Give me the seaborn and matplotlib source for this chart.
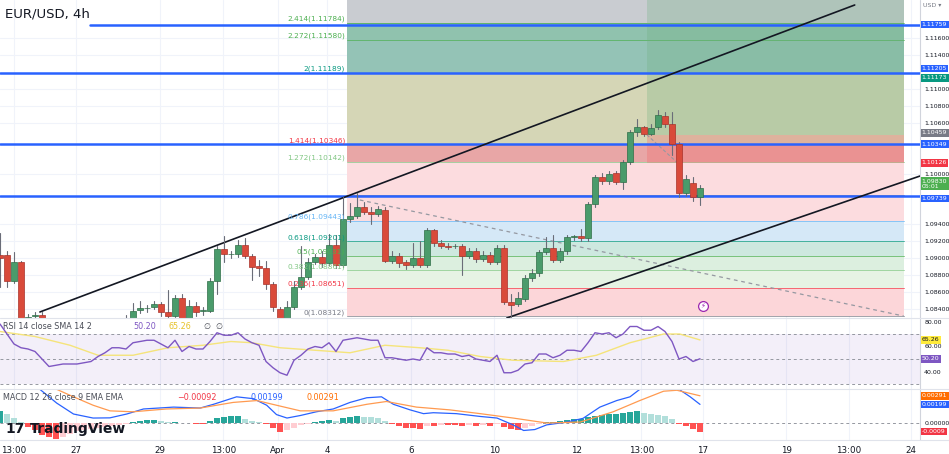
import numpy as np
import pandas as pd
import matplotlib
matplotlib.use("Agg")
import matplotlib.pyplot as plt
import matplotlib.transforms as mtransforms
import seaborn as sns

sns.set_theme(style="white")
plt.rcParams['font.family'] = ['DejaVu Sans']

# ---------------- data ----------------
opens = [1.0904,1.0904,1.0873,1.0895,1.0795,1.0832,1.0833,1.0800,1.0790,1.0785,1.0795,1.0790,1.0800,1.0805,1.0798,1.0808,1.0812,1.0815,1.0818,
         1.0828,1.0839,1.0841,1.0842,1.0846,1.0837,1.0832,1.0853,1.0826,1.0844,1.0838,1.0838,1.0873,1.0911,1.0905,1.0905,1.0916,1.0903,1.0891,1.0888,
         1.0870,1.0840,1.0828,1.0842,1.0866,1.0878,1.0895,1.0901,1.0894,1.0916,1.0892,1.0946,1.0950,1.0961,1.0955,1.0952,1.0957,1.0897,1.0903,1.0895,
         1.0892,1.0900,1.0892,1.0933,1.0918,1.0915,1.0914,1.0915,1.0903,1.0909,1.0899,1.0904,1.0895,1.0912,1.0848,1.0846,1.0852,1.0877,1.0882,1.0907,
         1.0912,1.0898,1.0909,1.0925,1.0926,1.0924,1.0964,1.0996,1.0991,1.1001,1.0990,1.1014,1.1049,1.1055,1.1047,1.1055,1.1068,1.1059,1.1035,1.0977,
         1.0989,1.0972]
closes = [1.0900,1.0873,1.0895,1.0795,1.0830,1.0833,1.0826,1.0790,1.0785,1.0795,1.0790,1.0800,1.0805,1.0798,1.0808,1.0812,1.0815,1.0818,1.0828,
          1.0838,1.0841,1.0841,1.0846,1.0837,1.0832,1.0853,1.0826,1.0844,1.0837,1.0838,1.0873,1.0911,1.0905,1.0905,1.0916,1.0903,1.0890,1.0888,1.0870,
          1.0842,1.0828,1.0842,1.0866,1.0878,1.0895,1.0901,1.0894,1.0916,1.0892,1.0946,1.0950,1.0961,1.0955,1.0952,1.0958,1.0897,1.0903,1.0894,1.0892,
          1.0900,1.0892,1.0933,1.0918,1.0915,1.0913,1.0914,1.0903,1.0909,1.0899,1.0904,1.0895,1.0912,1.0848,1.0845,1.0853,1.0877,1.0882,1.0907,1.0912,
          1.0898,1.0909,1.0925,1.0926,1.0924,1.0964,1.0996,1.0991,1.1000,1.0990,1.1014,1.1049,1.1055,1.1047,1.1054,1.1069,1.1059,1.1035,1.0977,1.0993,
          1.0972,1.0983]
highs = [1.0930,1.0908,1.0907,1.0897,1.0834,1.0836,1.0836,1.0805,1.0800,1.0800,1.0800,1.0805,1.0810,1.0810,1.0812,1.0815,1.0818,1.0822,1.0833,
         1.0847,1.0850,1.0845,1.0850,1.0848,1.0862,1.0856,1.0858,1.0851,1.0848,1.0842,1.0877,1.0915,1.0926,1.0909,1.0922,1.0924,1.0905,1.0898,1.0897,
         1.0872,1.0842,1.0850,1.0873,1.0915,1.0900,1.0905,1.0908,1.0929,1.0928,1.0972,1.0965,1.0977,1.0966,1.0960,1.0962,1.0960,1.0908,1.0906,1.0898,
         1.0918,1.0920,1.0936,1.0935,1.0921,1.0918,1.0917,1.0917,1.0912,1.0912,1.0908,1.0907,1.0916,1.0916,1.0858,1.0860,1.0880,1.0887,1.0910,1.0925,
         1.0928,1.0912,1.0928,1.0928,1.0935,1.0966,1.0998,1.1001,1.1003,1.1003,1.1016,1.1052,1.1065,1.1056,1.1058,1.1075,1.1073,1.1073,1.1037,1.0998,
         1.0996,1.0986]
lows = [1.0866,1.0866,1.0871,1.0790,1.0790,1.0829,1.0824,1.0780,1.0778,1.0780,1.0785,1.0785,1.0795,1.0792,1.0795,1.0803,1.0808,1.0810,1.0815,
        1.0825,1.0835,1.0837,1.0840,1.0832,1.0829,1.0830,1.0824,1.0824,1.0832,1.0833,1.0836,1.0858,1.0896,1.0900,1.0902,1.0900,1.0874,1.0879,1.0864,
        1.0838,1.0826,1.0826,1.0840,1.0864,1.0876,1.0893,1.0890,1.0892,1.0888,1.0890,1.0943,1.0948,1.0952,1.0940,1.0950,1.0895,1.0894,1.0890,1.0887,
        1.0890,1.0890,1.0890,1.0915,1.0912,1.0911,1.0912,1.0880,1.0900,1.0896,1.0897,1.0893,1.0893,1.0846,1.0831,1.0843,1.0849,1.0873,1.0879,1.0905,
        1.0895,1.0895,1.0905,1.0922,1.0920,1.0920,1.0960,1.0988,1.0988,1.0988,1.0982,1.1011,1.1044,1.1044,1.1045,1.1053,1.1055,1.1022,1.0972,1.0974,
        1.0968,1.0963]

rsi = [78,70,62,59,58,56,50,44,45,46,46,46,47,48,52,55,59,59,58,63,64,65,65,62,59,65,56,60,58,58,64,71,69,69,71,66,63,61,48,43,39,37,49,53,58,
       60,59,63,56,65,66,67,66,65,65,51,51,50,49,50,49,59,55,55,54,54,52,53,50,49,48,53,39,39,41,46,47,54,54,51,53,57,57,56,63,71,70,71,67,70,76,
       76,73,73,76,72,64,50,52,48,50.2]
rsi_sma_x = [0,5,10,14,19,24,29,33,36,40,45,50,55,60,64,68.6,73.3,80.5,85.2,90,94.8,97.1,100]
rsi_sma_v = [72,68,61,53,53,59,61,64,63,59,57,55,61,59,57,52,49,48,53,63,70,70,65.26]

macd_x = [5.7,8.1,10.5,13.3,15.7,18.1,20.5,24.8,28.6,30.5,33.8,36.2,38.1,39.5,41,42.9,45.2,47.6,50,52.4,54.5,56.2,58.6,60.5,61.9,65.2,68.6,
          71,73.3,74.8,76.4,78.1,81,83.3,85.7,88.1,90,91.4,97,98.6,100]
macd_v = [0.0036,0.00213,0.00096,0.00053,0.00055,0.00096,0.0015,0.0017,0.0016,0.0020,0.0028,0.0026,0.0019,0.0009,0.00053,0.0008,0.0012,
          0.0015,0.0022,0.0027,0.0028,0.0020,0.0014,0.0010,0.0011,0.0010,0.0007,0.00053,-0.0002,-0.0008,-0.0007,-0.0002,0.0001,0.0005,0.0017,
          0.0024,0.0028,0.0036,0.0036,0.0028,0.00199]
signal_x = [8.1,10.5,13.3,15.7,19,23.8,28.6,33.3,36.7,39.5,42.9,47.6,52.4,55.2,59.5,64.3,68.6,73.3,78.1,82.9,87.6,91.4,94.8,96.7,100]
signal_v = [0.0036,0.0028,0.0019,0.0013,0.0012,0.0015,0.0016,0.0022,0.0024,0.0019,0.0013,0.0013,0.0020,0.0023,0.0017,0.0014,0.0010,
            0.00053,0.0,0.0001,0.0012,0.0024,0.0034,0.0035,0.00291]
hist = [0.0013,0.0010,0.0005,0.0001,-0.0004,-0.0007,-0.0013,-0.0015,-0.0017,-0.0015,-0.0012,-0.0009,-0.0007,-0.0006,-0.0005,-0.0004,-0.0003,
        -0.0002,-0.0001,0.0001,0.0002,0.0003,0.0003,0.0002,0.0001,0.0001,0.00002,0.00002,-0.0001,-0.0001,0.0002,0.0005,0.0006,0.0007,0.0007,
        0.0004,0.0002,0.0001,-0.0001,-0.0005,-0.0010,-0.0008,-0.0005,-0.0002,-0.0001,0.0001,0.0002,0.0003,0.0002,0.0005,0.0006,0.0007,0.00068,
        0.0006,0.0005,0.0002,-0.0001,-0.0003,-0.0005,-0.0005,-0.0006,-0.0003,-0.0003,-0.0002,-0.0002,-0.0002,-0.0003,-0.0002,-0.0003,-0.0002,
        -0.0003,-0.0001,-0.0004,-0.0006,-0.0007,-0.0005,-0.0003,-0.0001,0.0001,0.0001,0.0002,0.0003,0.0004,0.0004,0.0006,0.0008,0.0009,0.0010,
        0.0010,0.0011,0.0012,0.0013,0.0011,0.0010,0.0009,0.0007,0.0004,-0.0001,-0.0003,-0.0006,-0.00092]

fib_ratios = [0, 0.236, 0.382, 0.5, 0.618, 0.786, 1, 1.272, 1.414, 2, 2.272, 2.414]
fib_prices = [1.08312, 1.08651, 1.08861, 1.09031, 1.09201, 1.09443, 1.09751, 1.10142, 1.10346, 1.11189, 1.11580, 1.11784]
fib_label_colors = ['#787b86','#f23645','#81c784','#4caf50','#089981','#64b5f6','#787b86','#81c784','#f23645','#089981','#4caf50','#4caf50']
fib_fills = ['#fcd6d9','#e6f3e4','#dcefdf','#cde8df','#d5e8f7','#fcdcdf','#fcdcdf','#e8a6a6','#d5d6b6','#94c3b6','#90c2ae']
blue_levels = [1.11759, 1.11189, 1.10349, 1.09739]

xtick_pos = [2, 10.9, 22.9, 31.9, 39.7, 46.7, 58.7, 70.6, 82.4, 91.6, 100.4, 112.3, 121.3, 130.1]
xtick_lab = ['13:00','27','29','13:00','Apr','4','6','10','12','13:00','17','19','13:00','24']
price_ticks = [1.116,1.114,1.110,1.108,1.106,1.100,1.094,1.092,1.090,1.088,1.086,1.084]

# ---------------- layout ----------------
W, H = 949, 454
fig = plt.figure(figsize=(W/100, H/100), dpi=100)
def axrect(top, bottom):
    return [0, 1-bottom/H, 920/W, (bottom-top)/H]
ax = fig.add_axes(axrect(0, 318))
axr = fig.add_axes(axrect(318, 389), sharex=ax)
axm = fig.add_axes(axrect(389, 440), sharex=ax)

FS = 4.5
XMAX = 920/7
for a in (ax, axr, axm):
    a.set_xlim(0, XMAX)
    for s in a.spines.values():
        s.set_visible(False)
    a.set_xticks(xtick_pos)
    a.grid(axis='x', color='#f0f3fa', lw=0.8)
    a.tick_params(axis='both', length=0, pad=3, labelsize=FS, colors='#131722')
    a.yaxis.tick_right()
    a.set_facecolor('white')
    a.axvline(XMAX, color='#d1d4dc', lw=0.8, clip_on=False)
for a in (ax, axr):
    plt.setp(a.get_xticklabels(), visible=False)
axm.set_xticklabels(xtick_lab)
axm.tick_params(axis='x', pad=4, labelsize=6.3)

ax.set_ylim(1.08294, 1.12050)
ax.set_yticks(price_ticks)
ax.set_yticklabels([f"{t:.5f}" for t in price_ticks])
ax.grid(axis='y', color='#f0f3fa', lw=0.8)

# fib zones
fx0, fx1 = 49.6, 129.1
for i in range(len(fib_prices)-1):
    ax.fill_between([fx0, fx1], fib_prices[i], fib_prices[i+1], color=fib_fills[i], lw=0, zorder=1)
ax.fill_between([fx0, fx1], fib_prices[-1], 1.1206, color='#c9ccd1', lw=0, zorder=1)
for p, c, r in zip(fib_prices, fib_label_colors, fib_ratios):
    ax.plot([fx0, fx1], [p, p], color=c, lw=0.7, alpha=0.7, zorder=1.5)
    if r != 1:
        ax.text(fx0-0.3, p+0.00005, f"{r:g}({p:.5f})", ha='right', va='bottom', fontsize=5.3, color=c, zorder=6)
# position boxes
ax.fill_between([92.4, fx1], 1.10459, 1.1206, color='#6fb07f', alpha=0.28, lw=0, zorder=1.6)
ax.fill_between([92.4, fx1], 1.10126, 1.10459, color='#ef6f6f', alpha=0.35, lw=0, zorder=1.6)
ax.plot([92.4, 97.4], [1.10459, 1.10080], color='#9598a1', lw=0.8, ls=(0,(3,2)), zorder=2)

# dashed trendline
ax.plot([51.4, 129.1], [1.09688, 1.08317], color='#9598a1', lw=0.9, ls=(0,(3,3)), zorder=2)

# blue levels
ax.plot([90/7, XMAX], [blue_levels[0]]*2, color='#2962ff', lw=1.8, zorder=4)
for b in blue_levels[1:]:
    ax.axhline(b, color='#2962ff', lw=1.8, zorder=4)

# channel lines
ax.plot([5.7, 122.1], [1.08365, 1.11991], color='#131722', lw=1.2, zorder=4)
ax.plot([72.4, XMAX], [1.08294, 1.09971], color='#131722', lw=1.2, zorder=4)

# candles
idx = np.arange(len(opens))
df = pd.DataFrame(dict(i=idx, o=opens, c=closes, h=highs, l=lows))
for r in df.itertuples():
    up = r.c >= r.o
    col = '#4a9b6b' if up else '#d94a3a'
    edge = '#2f6e47' if up else '#a8322a'
    ax.plot([r.i, r.i], [r.l, r.h], color='#6a6d78', lw=0.8, zorder=5)
    ax.bar(r.i, max(abs(r.c-r.o), 0.00004), bottom=min(r.o, r.c), width=0.72,
           color=col, edgecolor=edge, linewidth=0.5, zorder=5.5)

# lightning icon
ax.scatter([100.4], [1.08436], s=50, facecolor='white', edgecolor='#9c27b0', lw=0.9, zorder=7)
ax.text(100.4, 1.08436, "⚡", ha='center', va='center', fontsize=5, color='#9c27b0', zorder=8)

blend = mtransforms.blended_transform_factory
def tag(a, y, text, color, tc='white', fs=FS):
    a.text(1.002, y, text, transform=blend(a.transAxes, a.transData), ha='left', va='center',
           fontsize=fs, color=tc, clip_on=False, zorder=10, linespacing=1.0,
           bbox=dict(boxstyle='square,pad=0.2', fc=color, ec='none'))

tag(ax, 1.11759, '1.11759', '#2962ff')
tag(ax, 1.11240, '1.11205', '#2962ff')
tag(ax, 1.11130, '1.11173', '#089981')
tag(ax, 1.10480, '1.10459', '#787b86')
tag(ax, 1.10349, '1.10349', '#2962ff')
tag(ax, 1.10126, '1.10126', '#f23645')
tag(ax, 1.09880, '1.09830\n05:01', '#4caf50')
tag(ax, 1.09705, '1.09739', '#2962ff')

ax.text(0.005, 0.975, "EUR/USD, 4h", transform=ax.transAxes, ha='left', va='top', fontsize=9.5, color='#131722')
fig.text(932/W, 1-3/H, "USD ▾", fontsize=4.5, color='#787b86', ha='center', va='top')

# RSI pane
axr.set_ylim(26, 82.8)
axr.fill_between([0, XMAX], 30, 70, color='#7e57c2', alpha=0.09, lw=0)
for v in (70, 50, 30):
    axr.axhline(v, color='#9598a1', lw=0.7, ls=(0,(3,3)))
axr.set_yticks([80, 60, 40])
axr.set_yticklabels(['80.00', '60.00', '40.00'])
sns.lineplot(x=idx, y=rsi, ax=axr, color='#7e57c2', lw=1.0, zorder=4)
sns.lineplot(x=rsi_sma_x, y=rsi_sma_v, ax=axr, color='#f5e47a', lw=1.0, zorder=3)
axr.set_xlim(0, XMAX)
tag(axr, 65.26, '65.26', '#ffeb3b', '#131722')
tag(axr, 50.20, '50.20', '#7e57c2')
axr.text(0.003, 0.88, "RSI 14 close SMA 14 2", transform=axr.transAxes, fontsize=5.8, color='#4a4d57', va='center')
axr.text(0.145, 0.88, "50.20", transform=axr.transAxes, fontsize=5.8, color='#7e57c2', va='center')
axr.text(0.183, 0.88, "65.26", transform=axr.transAxes, fontsize=5.8, color='#e6c229', va='center')
axr.text(0.222, 0.88, "∅  ∅", transform=axr.transAxes, fontsize=5.8, color='#4a4d57', va='center')

# MACD pane
axm.set_ylim(-0.001818, 0.003636)
axm.axhline(0, color='#9598a1', lw=0.7, ls=(0,(3,3)))
hcols = []
for i, h in enumerate(hist):
    prev = hist[i-1] if i > 0 else h
    if h >= 0:
        hcols.append('#26a69a' if h >= prev else '#b2dfdb')
    else:
        hcols.append('#ff5252' if h <= prev else '#ffcdd2')
axm.bar(idx, hist, width=0.85, color=hcols, lw=0, zorder=2)
sns.lineplot(x=macd_x, y=macd_v, ax=axm, color='#2962ff', lw=0.9, zorder=3)
sns.lineplot(x=signal_x, y=signal_v, ax=axm, color='#ff9a50', lw=0.9, zorder=3)
axm.set_xlim(0, XMAX)
axm.set_yticks([0])
axm.set_yticklabels(['0.00000'])
tag(axm, 0.00291, '0.00291', '#ff6d00')
tag(axm, 0.00199, '0.00199', '#2962ff')
tag(axm, -0.00092, '-0.0009', '#f23645')
axm.text(0.003, 0.84, "MACD 12 26 close 9 EMA EMA", transform=axm.transAxes, fontsize=5.8, color='#4a4d57', va='center')
axm.text(0.193, 0.84, "−0.00092", transform=axm.transAxes, fontsize=5.8, color='#f23645', va='center')
axm.text(0.272, 0.84, "0.00199", transform=axm.transAxes, fontsize=5.8, color='#2962ff', va='center')
axm.text(0.333, 0.84, "0.00291", transform=axm.transAxes, fontsize=5.8, color='#ff6d00', va='center')
axm.text(0.006, 0.22, "17", transform=axm.transAxes, fontsize=10, fontweight='bold', color='#131722', va='center', zorder=9)
axm.text(0.032, 0.22, "TradingView", transform=axm.transAxes, fontsize=10, fontweight='bold', color='#131722', va='center', zorder=9)

# pane separators
for yy in (318, 389, 440):
    fig.add_artist(plt.Line2D([0, 1], [1-yy/H]*2, color='#e0e3eb', lw=0.8))

fig.savefig("out.png", dpi=100)
